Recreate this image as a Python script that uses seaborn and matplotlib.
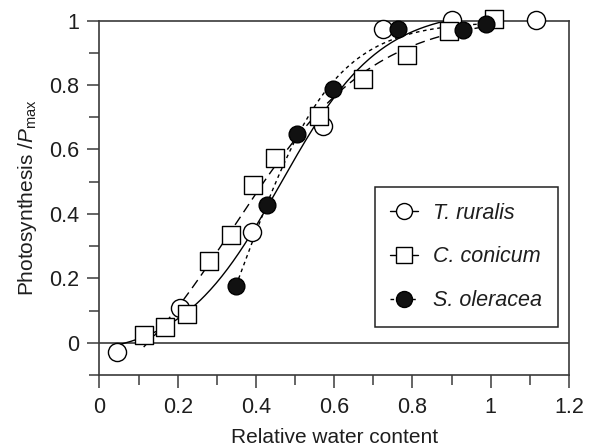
import numpy as np
import pandas as pd
import matplotlib
matplotlib.use("Agg")
import matplotlib.pyplot as plt
import seaborn as sns
from matplotlib.lines import Line2D
from matplotlib.ticker import MultipleLocator
from matplotlib.font_manager import FontProperties

# Relative water content vs. relative photosynthesis for three bryophytes
ruralis_rwc = [0.044, 0.206, 0.389, 0.572, 0.725, 0.900, 1.115]
ruralis_ps = [-0.030, 0.108, 0.344, 0.672, 0.974, 1.003, 1.003]

conicum_rwc = [0.113, 0.168, 0.223, 0.281, 0.335, 0.392, 0.449, 0.561, 0.674, 0.785, 0.894, 1.009]
conicum_ps = [0.023, 0.049, 0.090, 0.255, 0.334, 0.489, 0.574, 0.703, 0.817, 0.892, 0.966, 1.005]

oleracea_rwc = [0.349, 0.427, 0.504, 0.596, 0.764, 0.928, 0.988]
oleracea_ps = [0.177, 0.427, 0.647, 0.789, 0.973, 0.971, 0.990]

species = ["T. ruralis", "C. conicum", "S. oleracea"]

x_ticks = [0, 0.2, 0.4, 0.6, 0.8, 1.0, 1.2]
x_tick_labels = ["0", "0.2", "0.4", "0.6", "0.8", "1", "1.2"]
y_ticks = [0, 0.2, 0.4, 0.6, 0.8, 1.0]
y_tick_labels = ["0", "0.2", "0.4", "0.6", "0.8", "1"]


def logistic(p, x):
    lo, hi, x0, k = p
    return lo + (hi - lo) / (1.0 + np.exp(-k * (x - x0)))


def fit_logistic(x, y, p0, iters=400):
    """Levenberg-Marquardt least squares fit of a 4-parameter logistic."""
    x = np.asarray(x, float)
    y = np.asarray(y, float)
    p = np.asarray(p0, float)
    lam = 1e-2
    cost = np.sum((y - logistic(p, x)) ** 2)
    for _ in range(iters):
        r = y - logistic(p, x)
        J = np.empty((x.size, p.size))
        for j in range(p.size):
            dp = np.zeros_like(p)
            dp[j] = 1e-6 * max(1.0, abs(p[j]))
            J[:, j] = (logistic(p + dp, x) - logistic(p - dp, x)) / (2 * dp[j])
        A = J.T @ J
        g = J.T @ r
        step = np.linalg.solve(A + lam * np.diag(np.diag(A) + 1e-12), g)
        p_new = p + step
        new_cost = np.sum((y - logistic(p_new, x)) ** 2)
        if new_cost < cost:
            p, cost = p_new, new_cost
            lam *= 0.5
        else:
            lam *= 4.0
    return p


sns.set_theme(style="ticks")
plt.rcParams["font.family"] = ["Liberation Sans", "DejaVu Sans"]
plt.rcParams["mathtext.fontset"] = "custom"
plt.rcParams["mathtext.rm"] = "Liberation Sans"
plt.rcParams["mathtext.it"] = "Liberation Sans:italic"

ink = "#1e1e1e"
frame = "#3a3a3a"
tick_fs = 15.5
label_fs = 15
legend_fs = 15.5

fig = plt.figure(figsize=(5.90, 4.47), dpi=100)
ax = fig.add_axes([0.1686, 0.1611, 0.7958, 0.7930])

series = [
    (ruralis_rwc, ruralis_ps, "-", "o", "white", 170, (-0.1, 1.0, 0.45, 9.0)),
    (conicum_rwc, conicum_ps, (0, (7, 4)), "s", "white", 150, (-0.1, 1.0, 0.40, 7.0)),
    (oleracea_rwc, oleracea_ps, (0, (2.6, 2.6)), "o", "#111111", 145, (0.0, 1.0, 0.45, 9.0)),
]

# fitted response curves (behind the markers)
for rwc, ps, ls, mk, fc, size, p0 in series:
    p = fit_logistic(rwc, ps, p0)
    grid = np.linspace(min(rwc), max(rwc), 300)
    curve = pd.DataFrame({"rwc": grid, "ps": logistic(p, grid)})
    sns.lineplot(data=curve, x="rwc", y="ps", ax=ax, color="black", lw=1.0,
                 linestyle=ls, estimator=None, sort=False, zorder=2)

# measured points
for rwc, ps, ls, mk, fc, size, p0 in series:
    pts = pd.DataFrame({"rwc": rwc, "ps": ps})
    sns.scatterplot(data=pts, x="rwc", y="ps", ax=ax, marker=mk, s=size,
                    facecolor=fc, edgecolor="black", linewidth=1.0,
                    zorder=3, clip_on=False)

ax.axhline(0, color=frame, lw=1.2, zorder=1)

ax.set_xlim(0, 1.2)
ax.set_ylim(-0.1, 1.0)
ax.set_xticks(x_ticks)
ax.set_xticklabels(x_tick_labels)
ax.set_yticks(y_ticks)
ax.set_yticklabels(y_tick_labels)
ax.xaxis.set_minor_locator(MultipleLocator(0.1))
ax.yaxis.set_minor_locator(MultipleLocator(0.1))
ax.tick_params(which="major", direction="out", length=9, width=1.1,
               color=frame, labelsize=tick_fs, labelcolor=ink)
ax.tick_params(axis="x", which="major", pad=7)
ax.tick_params(axis="y", which="major", pad=5.5)
ax.tick_params(which="minor", direction="out", length=7, width=1.1, color=frame)
ax.tick_params(top=False, right=False, which="both")

for side in ["left", "right", "top", "bottom"]:
    ax.spines[side].set_visible(True)
    ax.spines[side].set_color(frame)
    ax.spines[side].set_linewidth(1.2)

ax.set_xlabel("Relative water content", fontsize=label_fs, color=ink, labelpad=7)
ax.set_ylabel("Photosynthesis /$P_{\\rm max}$", fontsize=label_fs, color=ink, labelpad=7)

handles = [
    Line2D([0], [0], color="black", lw=1.0, ls="-", marker="o", markersize=11.5,
           markerfacecolor="white", markeredgecolor="black", markeredgewidth=1.0),
    Line2D([0], [0], color="black", lw=1.0, ls="-", marker="s", markersize=11,
           markerfacecolor="white", markeredgecolor="black", markeredgewidth=1.0),
    Line2D([0], [0], color="black", lw=1.0, ls=(0, (2.6, 2.6)), marker="o", markersize=11.5,
           markerfacecolor="#111111", markeredgecolor="black", markeredgewidth=1.0),
]
leg = ax.legend(handles, species,
                prop=FontProperties(family="Liberation Sans", style="italic", size=legend_fs),
                loc="lower right", bbox_to_anchor=(0.976, 0.136), borderaxespad=0,
                frameon=True, fancybox=False, framealpha=1, edgecolor="#222222",
                handlelength=1.3, handletextpad=0.7, labelspacing=1.06,
                borderpad=0.72, numpoints=1)
leg.get_frame().set_linewidth(1.1)
for t in leg.get_texts():
    t.set_color(ink)

fig.savefig("out.png", dpi=100)
